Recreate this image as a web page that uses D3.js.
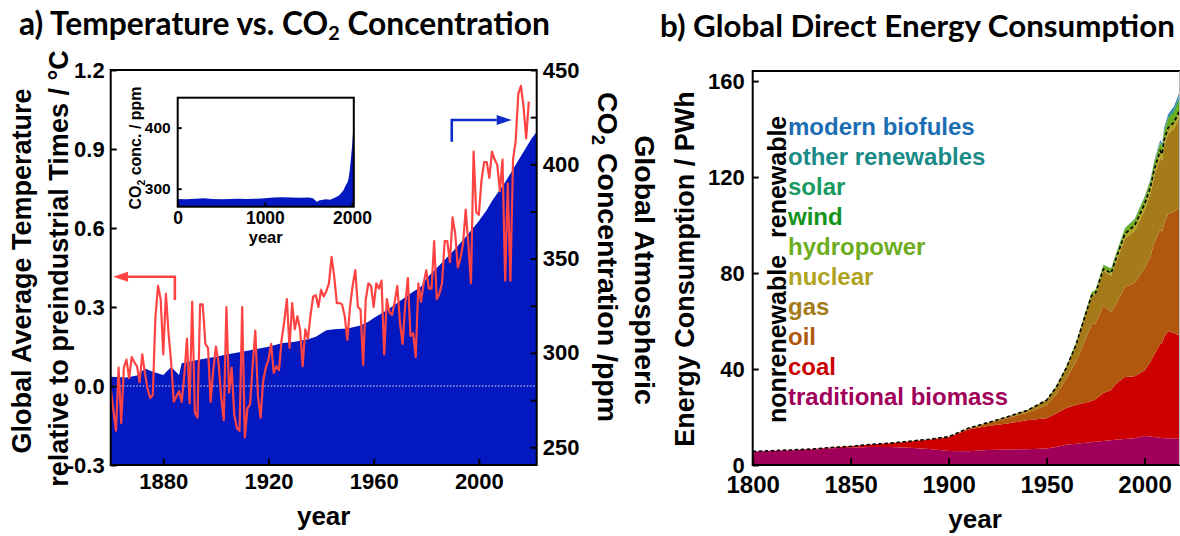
<!DOCTYPE html>
<html>
<head>
<meta charset="utf-8">
<script src="https://cdn.jsdelivr.net/npm/d3@7"></script>
<style>
  html, body { margin: 0; padding: 0; background: #fff; }
  svg { display: block; }
</style>
</head>
<body>
<svg id="chart" width="1180" height="536"></svg>
<script>
// ---------- panel a: temperature anomaly (°C), one value per year from 1860 ----------
const tempStartYear = 1860;
const tempAnomaly = [
  -0.01, -0.09, -0.17, 0.07, -0.14, 0.07, 0.10, 0.03, 0.11, 0.09,
  0.075, 0.015, 0.12, 0.05, -0.01, -0.045, -0.035, 0.26, 0.38, 0.33,
  0.12, 0.35, 0.20, 0.09, -0.06, -0.04, -0.02, -0.06, 0.04, 0.18,
  -0.065, 0.32, -0.10, -0.12, 0.31, 0.31, 0.16, 0.145, -0.06, 0.06,
  0.15, 0.09, -0.04, -0.13, 0.30, -0.025, 0.07, -0.11, -0.16, -0.17,
  0.30, -0.195, -0.085, -0.07, 0.08, 0.21, -0.04, -0.12, 0.02, 0.07,
  0.10, 0.16, 0.05, 0.075, 0.06, 0.175, 0.245, 0.33, 0.145, 0.315,
  0.215, 0.265, 0.215, 0.075, 0.215, 0.18, 0.27, 0.34, 0.345, 0.30,
  0.365, 0.34, 0.36, 0.39, 0.49, 0.415, 0.315, 0.315, 0.31, 0.265,
  0.175, 0.30, 0.38, 0.44, 0.30, 0.29, 0.08, 0.33, 0.39, 0.38,
  0.30, 0.39, 0.37, 0.40, 0.12, 0.33, 0.28, 0.27, 0.32, 0.38,
  0.24, 0.16, 0.31, 0.41, 0.19, 0.20, 0.11, 0.39, 0.32, 0.39,
  0.44, 0.37, 0.37, 0.55, 0.33, 0.35, 0.39, 0.55, 0.55, 0.47,
  0.64, 0.58, 0.45, 0.485, 0.54, 0.67, 0.54, 0.39, 0.89, 0.66,
  0.65, 0.78, 0.85, 0.85, 0.79, 0.89, 0.86, 0.84, 0.74, 0.86,
  0.40, 0.77, 0.40, 0.86, 0.93, 1.11, 1.14, 1.06, 0.94, 1.08
];

// atmospheric CO2 (ppm), main panel
const co2Years = [1860, 1866, 1870, 1873, 1876, 1880, 1883, 1886, 1887, 1890,
  1895, 1900, 1905, 1910, 1915, 1920, 1925, 1930, 1935, 1938,
  1942, 1945, 1950, 1955, 1958, 1960, 1965, 1970, 1975, 1978,
  1980, 1985, 1990, 1995, 2000, 2003, 2005, 2010, 2015, 2020, 2022];
const co2Ppm = [287.4, 287.0, 288.0, 291.8, 290.0, 288.3, 292.5, 288.3, 294.5, 295.5,
  296.8, 298.0, 299.5, 300.6, 302.0, 303.3, 305.1, 306.0, 307.2, 308.6,
  312.1, 312.5, 313.0, 314.5, 316.5, 318.5, 322.7, 327.5, 332.5, 335.1,
  339.5, 346.5, 353.7, 361.5, 370.0, 375.8, 380.5, 390.5, 402.0, 413.5, 417.3];

// CO2 over the last two millennia (inset)
const insetYears = [0, 100, 200, 300, 400, 500, 600, 700, 800, 900, 1000, 1100, 1200, 1300,
  1400, 1500, 1550, 1600, 1620, 1650, 1700, 1750, 1800, 1850, 1900, 1925, 1950, 1960,
  1970, 1980, 1990, 2000, 2010, 2015];
const insetPpm = [283.0, 282.5, 283.5, 284.5, 283.0, 282.5, 283.0, 283.5, 283.0, 283.5, 284.5, 285.5, 286.0, 285.5,
  285.0, 285.5, 284.5, 278.0, 280.5, 281.5, 282.5, 282.0, 285.0, 289.0, 297.0, 305.0, 311.0, 317.0,
  326.0, 339.0, 354.0, 370.0, 390.0, 401.0];

// tick values, panel a
const tempTicks = [-0.3, 0.0, 0.3, 0.6, 0.9, 1.2];
const co2Ticks = [250, 275, 300, 325, 350, 375, 400, 425, 450];
const yearTicksA = [1880, 1920, 1960, 2000];
const insetXTicks = [0, 1000, 2000];
const insetYTicks = [300, 400];

// ---------- panel b: direct primary energy by source (PWh) ----------
const energyYears = [1800, 1810, 1820, 1830, 1840, 1850, 1860, 1870, 1880, 1890,
  1900, 1910, 1920, 1930, 1940, 1950, 1955, 1960, 1965, 1970,
  1973, 1975, 1979, 1983, 1985, 1990, 1995, 2000, 2003, 2005,
  2008, 2009, 2010, 2012, 2015, 2017, 2019];
const traditionalBiomass = [5.56, 5.83, 6.11, 6.39, 6.94, 7.22, 7.50, 7.50, 7.22, 6.67,
  5.83, 5.75, 6.30, 6.50, 6.60, 6.90, 7.50, 8.40, 8.90, 9.30,
  9.50, 9.70, 10.0, 10.3, 10.5, 10.8, 11.2, 12.1, 11.9, 11.7,
  11.4, 11.3, 11.2, 11.1, 11.0, 10.9, 10.7];
const coal = [0.10, 0.13, 0.17, 0.25, 0.35, 0.57, 1.05, 1.60, 2.60, 3.90,
  5.70, 9.00, 10.0, 10.8, 12.0, 12.6, 14.0, 15.4, 16.1, 16.7,
  17.2, 17.7, 20.0, 21.0, 23.0, 25.9, 25.8, 27.3, 31.0, 34.5,
  39.0, 39.5, 42.0, 44.5, 44.0, 43.4, 43.8];
const oil = [0, 0, 0, 0, 0, 0, 0, 0.01, 0.05, 0.10,
  0.18, 0.38, 1.10, 2.20, 3.20, 5.40, 8.00, 12.0, 18.0, 26.5,
  32.0, 31.5, 36.5, 32.5, 33.0, 37.5, 39.0, 42.5, 44.0, 46.5,
  47.5, 46.5, 47.6, 49.0, 50.5, 52.5, 53.6];
const gas = [0, 0, 0, 0, 0, 0, 0, 0, 0.03, 0.04,
  0.06, 0.18, 0.25, 0.60, 0.90, 2.10, 3.00, 4.60, 7.00, 10.5,
  11.8, 12.3, 14.5, 15.2, 17.0, 20.2, 21.6, 24.3, 26.2, 27.8,
  30.3, 29.5, 31.9, 33.4, 34.7, 36.7, 39.3];
const nuclear = [0, 0, 0, 0, 0, 0, 0, 0, 0, 0,
  0, 0, 0, 0, 0, 0, 0, 0.01, 0.03, 0.08,
  0.20, 0.38, 0.67, 1.00, 1.50, 2.00, 2.30, 2.50, 2.60, 2.77,
  2.73, 2.70, 2.77, 2.46, 2.57, 2.64, 2.80];
const hydropower = [0, 0, 0, 0, 0, 0, 0, 0, 0, 0,
  0.02, 0.05, 0.10, 0.15, 0.20, 0.33, 0.50, 0.69, 0.92, 1.18,
  1.30, 1.45, 1.70, 1.90, 1.98, 2.19, 2.48, 2.70, 2.73, 2.90,
  3.20, 3.24, 3.43, 3.66, 3.88, 4.06, 4.22];
const wind = [0, 0, 0, 0, 0, 0, 0, 0, 0, 0,
  0, 0, 0, 0, 0, 0, 0, 0, 0, 0,
  0, 0, 0, 0, 0, 0.004, 0.008, 0.031, 0.063, 0.104,
  0.22, 0.277, 0.346, 0.53, 0.83, 1.14, 1.42];
const solar = [0, 0, 0, 0, 0, 0, 0, 0, 0, 0,
  0, 0, 0, 0, 0, 0, 0, 0, 0, 0,
  0, 0, 0, 0, 0, 0, 0, 0, 0, 0.004,
  0.012, 0.02, 0.033, 0.10, 0.25, 0.44, 0.72];
const otherRenewables = [0, 0, 0, 0, 0, 0, 0, 0, 0, 0,
  0, 0, 0, 0, 0, 0, 0, 0, 0.01, 0.02,
  0.03, 0.03, 0.04, 0.06, 0.08, 0.12, 0.16, 0.21, 0.25, 0.28,
  0.35, 0.37, 0.41, 0.50, 0.60, 0.67, 0.73];
const modernBiofuels = [0, 0, 0, 0, 0, 0, 0, 0, 0, 0,
  0, 0, 0, 0, 0, 0, 0, 0, 0, 0,
  0, 0, 0.02, 0.04, 0.06, 0.08, 0.09, 0.11, 0.18, 0.23,
  0.60, 0.65, 0.74, 0.77, 0.93, 1.00, 1.12];

const sourceNames = ["traditional biomass", "coal", "oil", "gas", "nuclear",
  "hydropower", "wind", "solar", "other renewables", "modern biofules"];
const sourceSeries = [traditionalBiomass, coal, oil, gas, nuclear,
  hydropower, wind, solar, otherRenewables, modernBiofuels];
const sourceColors = ["#a0005a", "#cc0000", "#b1580f", "#a57b1a", "#b0a322",
  "#6cad20", "#13931a", "#199a62", "#1a8a86", "#1b6db3"];
const energyTicks = [0, 40, 80, 120, 160];
const yearTicksB = [1800, 1850, 1900, 1950, 2000];

// ---------- drawing ----------
const SANS = "'Liberation Sans', Arial, Helvetica, sans-serif";
const HEAD = "Lato, 'Open Sans', sans-serif";
const svg = d3.select("#chart");
const defs = svg.append("defs");

function fitWidth(sel, width) {
  const w = sel.node().getBBox().width;
  const fs = parseFloat(sel.attr("font-size"));
  sel.attr("font-size", fs * width / w);
}

function styleAxis(g, size) {
  g.select(".domain").remove();
  g.selectAll("text").attr("font-family", SANS).attr("font-size", size)
    .attr("font-weight", "bold").attr("fill", "#000");
  g.selectAll(".tick line").attr("stroke", "#000").attr("stroke-width", 2);
}

function elbowArrow(g, p0, p1, tip, color) {
  const dir = Math.sign(tip[0] - p1[0]);
  const head = 15, half = 5;
  const base = [tip[0] - dir * head, tip[1]];
  g.append("path").attr("d", `M${p0}L${p1}L${base}`)
    .attr("fill", "none").attr("stroke", color).attr("stroke-width", 2.6);
  g.append("path").attr("d", `M${tip}L${base[0]},${tip[1] - half}L${base[0]},${tip[1] + half}Z`)
    .attr("fill", color);
}

// ===== panel a =====
const ax = d3.scaleLinear().domain([1860, 2022]).range([110.7, 536.7]);
const ayT = d3.scaleLinear().domain([-0.3, 1.2]).range([465, 70]);
const ayC = d3.scaleLinear().domain([240.6, 450]).range([465, 70]);

defs.append("clipPath").attr("id", "clipA").append("rect")
  .attr("x", ax.range()[0]).attr("y", ayT.range()[1])
  .attr("width", ax.range()[1] - ax.range()[0]).attr("height", ayT.range()[0] - ayT.range()[1]);

const gA = svg.append("g");
const plotA = gA.append("g").attr("clip-path", "url(#clipA)");

const co2Data = co2Years.map((y, i) => ({ year: y, ppm: co2Ppm[i] }));
plotA.append("path").datum(co2Data)
  .attr("d", d3.area().x(d => ax(d.year)).y0(ayC(ayC.domain()[0])).y1(d => ayC(d.ppm)))
  .attr("fill", "#0318be");

plotA.append("line")
  .attr("x1", ax.range()[0]).attr("x2", ax.range()[1])
  .attr("y1", ayT(0)).attr("y2", ayT(0))
  .attr("stroke", "#fff").attr("stroke-width", 1.2).attr("stroke-dasharray", "1.6,1.6")
  .attr("opacity", 0.85);

const tempData = tempAnomaly.map((v, i) => ({ year: tempStartYear + i, t: v }));
plotA.append("path").datum(tempData)
  .attr("d", d3.line().x(d => ax(d.year)).y(d => ayT(d.t)))
  .attr("fill", "none").attr("stroke", "#ff4343").attr("stroke-width", 2.2)
  .attr("stroke-linejoin", "round");

// arrows pointing to the axis each series belongs to
elbowArrow(gA, [ax(1884.4), ayT(0.327)], [ax(1884.4), ayT(0.415)], [ax(1860.9), ayT(0.415)], "#ff4343");
elbowArrow(gA, [ax(1989.7), ayC(412)], [ax(1989.7), ayC(423.5)], [ax(2012.5), ayC(423.5)], "#0c2bcc");

// axes
const axL = gA.append("g").attr("transform", `translate(${ax.range()[0]},0)`)
  .call(d3.axisLeft(ayT).tickValues(tempTicks).tickSize(-6).tickPadding(6).tickFormat(d => d.toFixed(1)));
styleAxis(axL, 22);
const axR = gA.append("g").attr("transform", `translate(${ax.range()[1]},0)`)
  .call(d3.axisRight(ayC).tickValues(co2Ticks).tickSize(-6).tickPadding(6).tickFormat(d => d % 50 === 0 ? d : ""));
styleAxis(axR, 22);
const axB = gA.append("g").attr("transform", `translate(0,${ayT.range()[0]})`)
  .call(d3.axisBottom(ax).tickValues(yearTicksA).tickSize(-6).tickPadding(8).tickFormat(d3.format("d")));
styleAxis(axB, 22);

gA.append("rect")
  .attr("x", ax.range()[0]).attr("y", ayT.range()[1])
  .attr("width", ax.range()[1] - ax.range()[0]).attr("height", ayT.range()[0] - ayT.range()[1])
  .attr("fill", "none").attr("stroke", "#000").attr("stroke-width", 2);

// axis titles
gA.append("text").attr("transform", `translate(31,271) rotate(-90)`)
  .attr("text-anchor", "middle").attr("font-family", SANS).attr("font-weight", "bold")
  .attr("font-size", 27).text("Global Average Temperature");
gA.append("text").attr("transform", `translate(68,268.5) rotate(-90)`)
  .attr("text-anchor", "middle").attr("font-family", SANS).attr("font-weight", "bold")
  .attr("font-size", 27).text("relative to preindustrial Times / °C");
gA.append("text").attr("transform", `translate(635,270) rotate(90)`)
  .attr("text-anchor", "middle").attr("font-family", SANS).attr("font-weight", "bold")
  .attr("font-size", 28.5).text("Global Atmospheric");
const co2Title = gA.append("text").attr("transform", `translate(598,257) rotate(90)`)
  .attr("text-anchor", "middle").attr("font-family", SANS).attr("font-weight", "bold")
  .attr("font-size", 28.5);
co2Title.append("tspan").text("CO");
co2Title.append("tspan").attr("font-size", "0.65em").attr("dy", 6).text("2");
co2Title.append("tspan").attr("dy", -6).text(" Concentration /ppm");

gA.append("text").attr("x", (ax.range()[0] + ax.range()[1]) / 2).attr("y", 525)
  .attr("text-anchor", "middle").attr("font-family", SANS).attr("font-weight", "bold")
  .attr("font-size", 26).text("year");

// panel title
const headA = svg.append("text").attr("x", 19).attr("y", 35)
  .attr("font-family", HEAD).attr("font-weight", "bold").attr("font-size", 27);
headA.append("tspan").text("a) Temperature vs. CO");
headA.append("tspan").attr("font-size", "0.62em").attr("dy", "0.25em").text("2");
headA.append("tspan").attr("dy", "-0.155em").text(" Concentration");
fitWidth(headA, 531);

// ----- inset: CO2 over two millennia -----
const ix = d3.scaleLinear().domain([0, 2020]).range([177.7, 353.8]);
const iy = d3.scaleLinear().domain([270.5, 449]).range([206.7, 97.7]);
defs.append("clipPath").attr("id", "clipInset").append("rect")
  .attr("x", ix.range()[0]).attr("y", iy.range()[1])
  .attr("width", ix.range()[1] - ix.range()[0]).attr("height", iy.range()[0] - iy.range()[1]);
const gI = svg.append("g");
gI.append("rect")
  .attr("x", ix.range()[0]).attr("y", iy.range()[1])
  .attr("width", ix.range()[1] - ix.range()[0]).attr("height", iy.range()[0] - iy.range()[1])
  .attr("fill", "#fff");
const insetData = insetYears.map((y, i) => ({ year: y, ppm: insetPpm[i] }));
gI.append("g").attr("clip-path", "url(#clipInset)").append("path").datum(insetData)
  .attr("d", d3.area().x(d => ix(d.year)).y0(iy.range()[0]).y1(d => iy(d.ppm)))
  .attr("fill", "#0318be");
const iL = gI.append("g").attr("transform", `translate(${ix.range()[0]},0)`)
  .call(d3.axisLeft(iy).tickValues(insetYTicks).tickSize(-4).tickPadding(7));
styleAxis(iL, 15.5);
const iB = gI.append("g").attr("transform", `translate(0,${iy.range()[0]})`)
  .call(d3.axisBottom(ix).tickValues(insetXTicks).tickSize(-4).tickPadding(5).tickFormat(d3.format("d")));
styleAxis(iB, 17.5);
gI.append("rect")
  .attr("x", ix.range()[0]).attr("y", iy.range()[1])
  .attr("width", ix.range()[1] - ix.range()[0]).attr("height", iy.range()[0] - iy.range()[1])
  .attr("fill", "none").attr("stroke", "#000").attr("stroke-width", 2);
gI.append("text").attr("x", (ix.range()[0] + ix.range()[1]) / 2).attr("y", 243)
  .attr("text-anchor", "middle").attr("font-family", SANS).attr("font-weight", "bold")
  .attr("font-size", 16.5).text("year");
const iTitle = gI.append("text").attr("transform", `translate(141,148) rotate(-90)`)
  .attr("text-anchor", "middle").attr("font-family", SANS).attr("font-weight", "bold")
  .attr("font-size", 16);
iTitle.append("tspan").text("CO");
iTitle.append("tspan").attr("font-size", "0.65em").attr("dy", 4).text("2");
iTitle.append("tspan").attr("dy", -4).text(" conc. / ppm");

// ===== panel b =====
const bx = d3.scaleLinear().domain([1800, 2018.1]).range([752.7, 1180]);
const by = d3.scaleLinear().domain([0, 164.2]).range([465, 71]);
defs.append("clipPath").attr("id", "clipB").append("rect")
  .attr("x", bx.range()[0]).attr("y", by.range()[1])
  .attr("width", bx.range()[1] - bx.range()[0]).attr("height", by.range()[0] - by.range()[1]);

const gB = svg.append("g");
const plotB = gB.append("g").attr("clip-path", "url(#clipB)");

const energyRows = energyYears.map((y, i) => {
  const row = { year: y };
  sourceNames.forEach((k, j) => { row[k] = sourceSeries[j][i]; });
  return row;
});
const stacked = d3.stack().keys(sourceNames)(energyRows);
const colorOf = d3.scaleOrdinal().domain(sourceNames).range(sourceColors);

plotB.selectAll("path.layer").data(stacked).join("path")
  .attr("class", "layer")
  .attr("d", d3.area().x(d => bx(d.data.year)).y0(d => by(d[0])).y1(d => by(d[1])))
  .attr("fill", d => colorOf(d.key));

// boundary between nonrenewable and renewable sources
const nuclearTop = stacked[sourceNames.indexOf("nuclear")];
plotB.append("path").datum(nuclearTop)
  .attr("d", d3.line().x(d => bx(d.data.year)).y(d => by(d[1])))
  .attr("fill", "none").attr("stroke", "#000").attr("stroke-width", 1.6)
  .attr("stroke-dasharray", "3.5,2.5");

const bL = gB.append("g").attr("transform", `translate(${bx.range()[0]},0)`)
  .call(d3.axisLeft(by).tickValues(energyTicks).tickSize(-6).tickPadding(8));
styleAxis(bL, 22);
const bB = gB.append("g").attr("transform", `translate(0,${by.range()[0]})`)
  .call(d3.axisBottom(bx).tickValues(yearTicksB).tickSize(-7).tickPadding(11).tickFormat(d3.format("d")));
styleAxis(bB, 24);

const frameB = gB.append("g").attr("stroke", "#000").attr("stroke-width", 2);
frameB.append("line").attr("x1", bx.range()[0]).attr("x2", bx.range()[1] + 2)
  .attr("y1", by.range()[1]).attr("y2", by.range()[1]);
frameB.append("line").attr("x1", bx.range()[0]).attr("x2", bx.range()[1] + 2)
  .attr("y1", by.range()[0]).attr("y2", by.range()[0]);
frameB.append("line").attr("x1", bx.range()[0]).attr("x2", bx.range()[0])
  .attr("y1", by.range()[1] - 1).attr("y2", by.range()[0] + 1);
gB.append("line").attr("x1", 1179.5).attr("x2", 1179.5)
  .attr("y1", by.range()[1]).attr("y2", by.range()[0])
  .attr("stroke", "#b8b8b8").attr("stroke-width", 1);

// legend, listed top-down in reverse stacking order
const legendNames = sourceNames.slice().reverse();
const legendY = d3.scalePoint().domain(legendNames).range([135, 405]);
gB.selectAll("text.legend").data(legendNames).join("text")
  .attr("class", "legend")
  .attr("x", 788).attr("y", d => legendY(d))
  .attr("font-family", SANS).attr("font-weight", "bold").attr("font-size", 24)
  .attr("fill", d => colorOf(d)).text(d => d);
gB.append("text").attr("transform", `translate(786,238) rotate(-90)`)
  .attr("font-family", SANS).attr("font-weight", "bold").attr("font-size", 25)
  .text("renewable");
gB.append("text").attr("transform", `translate(786,423) rotate(-90)`)
  .attr("font-family", SANS).attr("font-weight", "bold").attr("font-size", 25)
  .text("nonrenewable");

gB.append("text").attr("transform", `translate(694,269) rotate(-90)`)
  .attr("text-anchor", "middle").attr("font-family", SANS).attr("font-weight", "bold")
  .attr("font-size", 27).text("Energy Consumption / PWh");
gB.append("text").attr("x", 975).attr("y", 528)
  .attr("text-anchor", "middle").attr("font-family", SANS).attr("font-weight", "bold")
  .attr("font-size", 26).text("year");

const headB = svg.append("text").attr("x", 660).attr("y", 36.7)
  .attr("font-family", HEAD).attr("font-weight", "bold").attr("font-size", 27)
  .text("b) Global Direct Energy Consumption");
fitWidth(headB, 515);
</script>
</body>
</html>
